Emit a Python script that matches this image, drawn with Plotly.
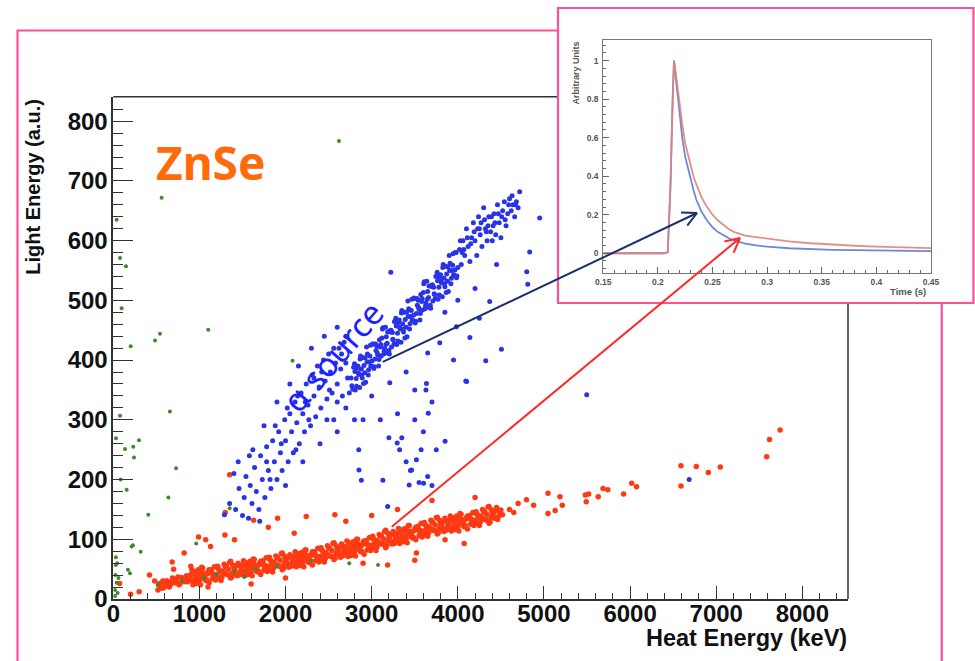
import plotly.graph_objects as go
import numpy as np

W, H = 975, 661

# ---------------- data (heat energy keV, light energy a.u.) ----------------
RED_BAND = [
    (525, 24), (550, 20), (575, 30), (600, 24), (625, 30), (650, 20), (675, 28), (700, 33), (725, 27), (750, 37),
    (775, 26), (800, 34), (825, 29), (850, 39), (875, 32), (900, 41), (925, 24), (950, 38), (975, 45), (1000, 31),
    (1025, 53), (1050, 38), (1075, 31), (1100, 45), (1125, 44), (1150, 34), (1175, 54), (1200, 41), (1225, 50), (1250, 31),
    (1275, 46), (1300, 54), (1325, 41), (1350, 61), (1375, 37), (1400, 52), (1425, 42), (1450, 60), (1475, 46), (1500, 56),
    (1525, 39), (1550, 53), (1575, 60), (1600, 45), (1625, 67), (1650, 53), (1675, 45), (1700, 60), (1725, 58), (1750, 48),
    (1775, 69), (1800, 55), (1825, 65), (1850, 45), (1875, 60), (1900, 69), (1925, 55), (1950, 76), (1975, 51), (2000, 66),
    (2025, 57), (2050, 74), (2075, 61), (2100, 71), (2125, 54), (2150, 68), (2175, 75), (2200, 61), (2225, 82), (2250, 68),
    (2275, 61), (2300, 75), (2325, 74), (2350, 64), (2375, 85), (2400, 71), (2425, 81), (2450, 62), (2475, 76), (2500, 85),
    (2525, 72), (2550, 93), (2575, 68), (2600, 83), (2625, 74), (2650, 92), (2675, 79), (2700, 88), (2725, 71), (2750, 86),
    (2775, 93), (2800, 79), (2825, 100), (2850, 86), (2875, 79), (2900, 94), (2925, 93), (2950, 82), (2975, 103), (3000, 90),
    (3025, 100), (3050, 81), (3075, 96), (3100, 105), (3125, 92), (3150, 113), (3175, 89), (3200, 104), (3225, 95), (3250, 113),
    (3275, 100), (3300, 110), (3325, 93), (3350, 108), (3375, 115), (3400, 101), (3425, 123), (3450, 109), (3475, 102), (3500, 117),
    (3525, 116), (3550, 106), (3575, 127), (3600, 114), (3625, 124), (3650, 105), (3675, 119), (3700, 128), (3725, 115), (3750, 136),
    (3775, 111), (3800, 126), (3825, 117), (3850, 135), (3875, 121), (3900, 131), (3925, 114), (3950, 129), (3975, 135), (4000, 121),
    (4025, 143), (4050, 129), (4075, 121), (4100, 136), (4125, 135), (4150, 125), (4175, 145), (4200, 132), (4225, 142), (4250, 123),
    (4275, 137), (4300, 146), (4325, 133), (4350, 154), (4375, 129), (4400, 144), (4425, 135), (4450, 153), (4475, 139), (4500, 149),
    (912, 31), (937, 46), (962, 26), (987, 44), (1012, 37), (1037, 52), (1062, 33), (1087, 42), (1112, 27), (1137, 49),
    (1162, 42), (1187, 38), (1212, 55), (1237, 35), (1262, 47), (1287, 43), (1312, 55), (1337, 40), (1362, 63), (1387, 44),
    (1412, 53), (1437, 39), (1462, 56), (1487, 42), (1512, 46), (1537, 61), (1562, 41), (1587, 58), (1612, 52), (1637, 66),
    (1662, 47), (1687, 57), (1712, 41), (1737, 64), (1762, 56), (1787, 52), (1812, 70), (1837, 49), (1862, 62), (1887, 57),
    (1912, 69), (1937, 55), (1962, 77), (1987, 59), (2012, 67), (2037, 53), (2062, 71), (2087, 56), (2112, 61), (2137, 76),
    (2162, 56), (2187, 73), (2212, 67), (2237, 82), (2262, 62), (2287, 72), (2312, 57), (2337, 79), (2362, 72), (2387, 68),
    (2412, 86), (2437, 65), (2462, 78), (2487, 74), (2512, 85), (2537, 71), (2562, 94), (2587, 76), (2612, 85), (2637, 70),
    (2662, 88), (2687, 74), (2712, 79), (2737, 94), (2762, 73), (2787, 91), (2812, 85), (2837, 100), (2862, 81), (2887, 90),
    (2912, 75), (2937, 98), (2962, 91), (2987, 87), (3012, 105), (3037, 85), (3062, 98), (3087, 94), (3112, 106), (3137, 92),
    (3162, 115), (3187, 97), (3212, 106), (3237, 92), (3262, 110), (3287, 96), (3312, 101), (3337, 116), (3362, 96), (3387, 114),
    (3412, 108), (3437, 123), (3462, 104), (3487, 114), (3512, 99), (3537, 122), (3562, 115), (3587, 111), (3612, 128), (3637, 108),
    (3662, 121), (3687, 117), (3712, 128), (3737, 114), (3762, 137), (3787, 119), (3812, 127), (3837, 113), (3862, 131), (3887, 117),
    (3912, 121), (3937, 136), (3962, 116), (3987, 134), (4012, 127), (4037, 142), (4062, 123), (4087, 133), (4112, 117), (4137, 140),
    (4162, 133), (4187, 129), (4212, 146), (4237, 126), (4262, 139), (4287, 135), (4312, 146), (4337, 132), (4362, 155), (4387, 137),
    (4412, 145),
    (537, 26), (562, 22), (587, 19), (612, 30), (637, 27), (662, 24), (687, 35), (712, 27), (737, 32), (762, 24),
    (787, 36), (812, 31), (837, 36), (862, 29), (887, 36), (912, 49), (937, 30), (962, 35), (987, 49), (1012, 24),
    (1037, 44), (1062, 40), (1087, 32), (1112, 49), (1137, 47), (1162, 39), (1187, 32), (1212, 52), (1237, 45), (1262, 37),
    (1287, 58), (1312, 42), (1337, 50), (1362, 35), (1387, 57), (1412, 47), (1437, 56), (1462, 40), (1487, 52), (1512, 64),
    (1537, 45), (1562, 50), (1587, 63), (1612, 39), (1637, 58), (1662, 54), (1687, 47), (1712, 63), (1737, 62), (1762, 53),
    (1787, 46), (1812, 67), (1837, 59), (1862, 52), (1887, 72), (1912, 56), (1937, 65), (1962, 49), (1987, 72), (2012, 61),
    (2037, 70), (2062, 55), (2087, 66), (2112, 79), (2137, 60), (2162, 65), (2187, 78), (2212, 54), (2237, 74), (2262, 69),
    (2287, 62), (2312, 79), (2337, 77), (2362, 69), (2387, 62), (2412, 83), (2437, 75), (2462, 68), (2487, 89), (2512, 72),
    (2537, 81), (2562, 66), (2587, 89), (2612, 79), (2637, 87), (2662, 72), (2687, 84), (2712, 97), (2737, 78), (2762, 82),
    (2787, 96), (2812, 72), (2837, 92), (2862, 88), (2887, 80), (2912, 97), (2937, 96), (2962, 88), (2987, 81), (3012, 101),
    (3037, 94), (3062, 87), (3087, 108), (3112, 92), (3137, 101), (3162, 86), (3187, 110), (3212, 99), (3237, 108), (3262, 93),
    (3287, 105), (3312, 118), (3337, 99), (3362, 104), (3387, 118), (3412, 94), (3437, 114), (3462, 110), (3487, 103), (3512, 120),
    (3537, 119), (3562, 111), (3587, 104), (3612, 125), (3637, 118), (3662, 111), (3687, 132), (3712, 115), (3737, 124), (3762, 109),
    (3787, 132), (3812, 121), (3837, 130), (3862, 115), (3887, 127), (3912, 139), (3937, 120), (3962, 125), (3987, 139), (4012, 114),
    (4037, 134), (4062, 130), (4087, 123), (4112, 139), (4137, 138), (4162, 130), (4187, 123), (4212, 143), (4237, 136), (4262, 129),
    (4287, 150), (4312, 133), (4337, 142), (4362, 127), (4387, 150), (4412, 139), (4437, 148), (4462, 133), (4487, 145),
]

RED_SPARSE = [
    (1351, 208), (990, 104), (1073, 99), (1129, 88), (1296, 107), (684, 62), (823, 77), (1407, 99), (1629, 132), (1907, 135),
    (2240, 138), (2572, 141), (3185, 57), (3519, 77), (3852, 99), (4074, 93), (518, 15), (73, 26), (300, 12), (200, 8),
    (420, 40), (480, 30), (560, 18), (1300, 145), (1800, 120), (2100, 110), (2700, 130), (3000, 140), (3300, 150), (3700, 165),
    (4200, 170), (3500, 65), (2900, 60), (2000, 35), (1600, 25), (1100, 20), (900, 55), (700, 50),
    (7742, 283), (7619, 267), (7586, 238), (7047, 221), (6908, 212), (6769, 222), (6591, 223), (6591, 189), (6075, 188), (6019, 194),
    (5925, 176), (5741, 183), (5686, 185), (5630, 171), (5519, 176), (5491, 163), (5480, 174), (5186, 171), (5213, 157), (5047, 177),
    (5047, 143), (5130, 148), (4880, 157), (4797, 166), (4519, 141), (4600, 150), (4700, 160), (4650, 145),
]

BLUE_EVENTS = [
    # dense alpha band
    (2760, 370), (2780, 351), (2800, 394), (2820, 369), (2840, 390), (2860, 354), (2880, 385), (2900, 404), (2920, 379), (2940, 422),
    (2960, 375), (2980, 407), (3000, 390), (3020, 427), (3040, 402), (3060, 423), (3080, 390), (3100, 422), (3120, 437), (3140, 410),
    (3160, 455), (3180, 428), (3200, 416), (3220, 447), (3240, 446), (3260, 427), (3280, 470), (3300, 445), (3320, 467), (3340, 430),
    (3360, 461), (3380, 480), (3400, 455), (3420, 499), (3440, 452), (3460, 483), (3480, 466), (3500, 503), (3520, 478), (3540, 500),
    (3560, 467), (3580, 498), (3600, 513), (3620, 486), (3640, 532), (3660, 505), (3680, 492), (3700, 523), (3720, 522), (3740, 503),
    (3760, 547), (3780, 522), (3800, 543), (3820, 506), (3840, 537), (3860, 557), (3880, 532), (3900, 575), (3920, 528), (3940, 559),
    (3960, 542), (3980, 580), (4000, 555),
    (2770, 357), (2790, 388), (2810, 350), (2830, 387), (2850, 376), (2870, 407), (2890, 370), (2910, 391), (2930, 363), (2950, 410),
    (2970, 397), (2990, 390), (3010, 427), (3030, 389), (3050, 416), (3070, 409), (3090, 434), (3110, 407), (3130, 454), (3150, 420),
    (3170, 439), (3190, 412), (3210, 449), (3230, 422), (3250, 434), (3270, 465), (3290, 426), (3310, 463), (3330, 452), (3350, 483),
    (3370, 447), (3390, 468), (3410, 439), (3430, 486), (3450, 473), (3470, 467), (3490, 504), (3510, 465), (3530, 492), (3550, 485),
    (3570, 510), (3590, 484), (3610, 531), (3630, 496), (3650, 515), (3670, 488), (3690, 525), (3710, 499), (3730, 510), (3750, 541),
    (3770, 502), (3790, 539), (3810, 529), (3830, 560), (3850, 523), (3870, 544), (3890, 515), (3910, 562), (3930, 550), (3950, 543),
    (3970, 580), (3990, 541),
    (2805, 381), (2825, 356), (2845, 379), (2865, 402), (2885, 375), (2905, 361), (2925, 404), (2945, 397), (2965, 384), (2985, 425),
    (3005, 399), (3025, 386), (3045, 427), (3065, 412), (3085, 401), (3105, 426), (3125, 452), (3145, 415), (3165, 426), (3185, 447),
    (3205, 410), (3225, 450), (3245, 435), (3265, 464), (3285, 457), (3305, 432), (3325, 455), (3345, 479), (3365, 452), (3385, 437),
    (3405, 480), (3425, 473), (3445, 461), (3465, 502), (3485, 475), (3505, 462), (3525, 503), (3545, 488), (3565, 478), (3585, 503),
    (3605, 528), (3625, 491), (3645, 502), (3665, 524), (3685, 487), (3705, 526), (3725, 511), (3745, 540), (3765, 533), (3785, 509),
    (3805, 532), (3825, 555), (3845, 528), (3865, 513), (3885, 556), (3905, 550), (3925, 537), (3945, 578), (3965, 551), (3985, 538),
    # upper end of the band
    (4020, 585), (4040, 560), (4060, 600), (4080, 575), (4100, 620), (4120, 590), (4140, 565), (4160, 605), (4180, 630), (4200, 600),
    (4220, 575), (4240, 640), (4260, 610), (4280, 590), (4300, 655), (4320, 620), (4340, 600), (4360, 640), (4380, 615), (4400, 600),
    (4410, 625), (4420, 645), (4440, 610), (4460, 660), (4480, 630), (4500, 605), (4520, 650), (4540, 665), (4560, 625), (4580, 645),
    (4600, 670), (4620, 650), (4640, 660), (4660, 640), (4680, 665), (4700, 655), (4718, 682), (4950, 638), (4834, 581), (4800, 548),
    (4812, 527), (4030, 600), (4070, 585), (4110, 605), (4150, 595), (4190, 615), (4230, 620), (4270, 630), (4310, 635), (4350, 625),
    (4390, 640), (4430, 630), (4470, 645), (4510, 640), (4550, 635), (4590, 660), (4630, 675), (4670, 660), (4050, 580), (4250, 620),
    (4330, 615),
    # lower tail
    (1290, 141), (1350, 160), (1420, 150), (1460, 185), (1500, 140), (1520, 170), (1540, 205), (1570, 135), (1590, 190), (1610, 160),
    (1640, 220), (1660, 180), (1690, 150), (1710, 240), (1730, 200), (1760, 170), (1780, 255), (1800, 215), (1830, 185), (1850, 265),
    (1870, 230), (1900, 200), (1920, 280), (1940, 245), (1960, 215), (1990, 300), (2000, 265), (2030, 230), (2050, 310), (2070, 280),
    (2090, 245), (2110, 330), (2130, 295), (2160, 260), (2180, 345), (2200, 310), (2220, 280), (2240, 360), (2260, 325), (2290, 290),
    (2310, 375), (2330, 340), (2350, 305), (2370, 390), (2390, 355), (2410, 320), (2440, 400), (2460, 365), (2480, 335), (2500, 410),
    (2520, 380), (2540, 345), (2560, 300), (2580, 395), (2600, 360), (2620, 420), (2640, 385), (2660, 340), (2680, 430), (2700, 395),
    (2720, 370), (2740, 345), (1580, 240), (1750, 290), (1900, 330), (2050, 360), (2150, 390), (2300, 420), (2450, 440), (2600, 455),
    (1400, 210), (1700, 130), (2000, 190), (2200, 230), (2400, 260), (2600, 280), (2800, 300),
    (1450, 230), (1620, 250), (1780, 230), (1880, 290), (2020, 320), (2140, 340), (2230, 330), (2330, 370), (2420, 380), (2510, 350),
    (2560, 420), (2650, 410), (2700, 440), (2120, 250), (2270, 300), (2480, 300), (2600, 330), (2700, 320), (1950, 260), (1820, 200),
    # scattered off-band events
    (3222, 547), (4370, 498), (4140, 438), (4506, 418), (4324, 399), (4092, 365), (3650, 412), (3790, 429), (3983, 456), (3636, 361),
    (3210, 362), (3400, 380), (3500, 300), (3600, 280), (3700, 330), (3750, 250), (3300, 310), (3400, 230), (3550, 195), (3650, 205),
    (3700, 190), (3200, 270), (3100, 300), (3000, 340), (2900, 300), (2850, 250), (3500, 350), (3850, 480), (4000, 500), (4200, 520),
    (4250, 470), (3950, 400), (4450, 560), (5496, 342), (6686, 200), (3350, 270), (3450, 215), (3630, 350), (3657, 311), (3574, 250),
    (3519, 233), (3602, 194), (3435, 191), (3324, 250), (3296, 261), (3463, 216), (3185, 155), (3130, 199), (2852, 216), (2880, 199),
    (3852, 264), (4102, 364),
]

GREEN_EVENTS = [
    (2620, 767), (561, 672), (39, 635), (78, 571), (147, 557), (97, 487), (542, 444), (485, 433), (1102, 451), (202, 423),
    (2081, 399), (78, 307), (31, 269), (136, 251), (232, 255), (298, 266), (240, 237), (86, 200), (155, 183), (406, 141),
    (213, 88), (228, 90), (318, 79), (28, 57), (170, 49), (194, 43), (39, 27), (657, 314), (729, 219), (640, 170),
    (962, 93), (1351, 152), (2740, 60), (3074, 57), (518, 23), (1407, 46), (1518, 37), (20, 15), (50, 10), (30, 70),
    (25, 40), (60, 35), (1200, 40), (1650, 50), (1900, 55), (2300, 65), (800, 30), (1050, 35), (20, 5), (45, 60),
]

# inset pulse shapes (time in s, normalised amplitude)
PULSE_TIME = [0.15, 0.17, 0.19, 0.205, 0.209, 0.2115, 0.2135, 0.2147, 0.216, 0.218, 0.22, 0.2225, 0.225, 0.2275,
              0.23, 0.2325, 0.235, 0.2375, 0.24, 0.245, 0.25, 0.255, 0.26, 0.265, 0.27, 0.28, 0.29, 0.30,
              0.32, 0.34, 0.36, 0.38, 0.40, 0.42, 0.45]
PULSE_ALPHA = [0, 0, 0, 0, 0.005, 0.35, 0.8, 1.0, 0.93, 0.82, 0.70, 0.59, 0.50, 0.44,
               0.38, 0.33, 0.28, 0.245, 0.215, 0.17, 0.135, 0.11, 0.092, 0.078, 0.066, 0.050, 0.041, 0.034,
               0.026, 0.021, 0.018, 0.016, 0.014, 0.013, 0.011]
PULSE_BETA = [0, 0, 0, 0, 0.005, 0.35, 0.8, 1.0, 0.95, 0.86, 0.76, 0.66, 0.57, 0.51,
              0.45, 0.40, 0.36, 0.32, 0.29, 0.24, 0.20, 0.17, 0.145, 0.125, 0.11, 0.092, 0.084, 0.076,
              0.062, 0.052, 0.044, 0.039, 0.034, 0.030, 0.027]

X_TICKS = [0, 1000, 2000, 3000, 4000, 5000, 6000, 7000, 8000]
Y_TICKS = [0, 100, 200, 300, 400, 500, 600, 700, 800]
INSET_X_TICKS = [0.15, 0.2, 0.25, 0.3, 0.35, 0.4, 0.45]
INSET_X_LABELS = ["0.15", "0.2", "0.25", "0.3", "0.35", "0.4", "0.45"]
INSET_Y_TICKS = [0, 0.2, 0.4, 0.6, 0.8, 1.0]
INSET_Y_LABELS = ["0", "0.2", "0.4", "0.6", "0.8", "1"]

# ---------------- geometry ----------------
MX0, MX1, MYB, MYT = 113.3, 848.0, 599.0, 96.7
XR = [0, 8530]
YR = [0, 841]
IX0, IX1, IYB, IYT = 603.3, 931.0, 273.3, 40.0
IXR = [0.15, 0.45]
IYR = [-0.104, 1.107]


def px(x):
    return x / W


def py(y):
    return 1 - y / H


def main_to_px(hx, ly):
    return (MX0 + (hx - XR[0]) / (XR[1] - XR[0]) * (MX1 - MX0),
            MYB - (ly - YR[0]) / (YR[1] - YR[0]) * (MYB - MYT))


def inset_to_px(t, a):
    return (IX0 + (t - IXR[0]) / (IXR[1] - IXR[0]) * (IX1 - IX0),
            IYB - (a - IYR[0]) / (IYR[1] - IYR[0]) * (IYB - IYT))


def unzip(pairs):
    return [p[0] for p in pairs], [p[1] for p in pairs]


fig = go.Figure()

rx, ry = unzip(RED_BAND + RED_SPARSE)
bx, by = unzip(BLUE_EVENTS)
gx, gy = unzip(GREEN_EVENTS)

fig.add_trace(go.Scatter(x=rx, y=ry, mode="markers", xaxis="x", yaxis="y",
                         marker=dict(size=5.5, color="#ff3a12", line=dict(width=0)), hoverinfo="skip"))
fig.add_trace(go.Scatter(x=bx, y=by, mode="markers", xaxis="x", yaxis="y",
                         marker=dict(size=5, color="#2a34e6", line=dict(width=0)), hoverinfo="skip"))
fig.add_trace(go.Scatter(x=gx, y=gy, mode="markers", xaxis="x", yaxis="y",
                         marker=dict(size=4, color="#3f8a2c", line=dict(width=0)), hoverinfo="skip"))

fig.add_trace(go.Scatter(x=PULSE_TIME, y=PULSE_ALPHA, mode="lines", xaxis="x2", yaxis="y2",
                         line=dict(color="#6f88d8", width=1.8), hoverinfo="skip"))
fig.add_trace(go.Scatter(x=PULSE_TIME, y=PULSE_BETA, mode="lines", xaxis="x2", yaxis="y2",
                         line=dict(color="#e0837a", width=1.8), opacity=0.9, hoverinfo="skip"))

AX = "#333333"
tickfont = dict(family="Liberation Sans, Arial", size=24, color="#111111", weight="bold")
inset_font = dict(family="Liberation Sans, Arial", size=8.5, color="#555555", weight="bold")

fig.update_layout(
    width=W, height=H, margin=dict(l=0, r=0, t=0, b=0, autoexpand=False),
    paper_bgcolor="white", plot_bgcolor="white", showlegend=False,
    xaxis=dict(domain=[px(MX0), px(MX1)], range=XR, anchor="y", automargin=False,
               tickmode="array", tickvals=X_TICKS, ticktext=[str(v) for v in X_TICKS],
               ticks="inside", ticklen=13, tickwidth=1.3, tickcolor=AX,
               minor=dict(dtick=200, tick0=0, ticks="inside", ticklen=6, tickwidth=1, tickcolor=AX),
               showline=True, linecolor=AX, linewidth=1.6, mirror=False,
               showgrid=False, zeroline=False, tickfont=tickfont, ticklabelstandoff=-8),
    yaxis=dict(domain=[py(MYB), py(MYT)], range=YR, anchor="x", automargin=False,
               tickmode="array", tickvals=Y_TICKS, ticktext=[str(v) for v in Y_TICKS],
               ticks="inside", ticklen=20, tickwidth=1.3, tickcolor=AX,
               minor=dict(dtick=20, tick0=0, ticks="inside", ticklen=10, tickwidth=1, tickcolor=AX),
               showline=True, linecolor=AX, linewidth=1.6, mirror=False,
               showgrid=False, zeroline=False, tickfont=tickfont, ticklabelstandoff=-1),
    xaxis2=dict(domain=[px(IX0), px(IX1)], range=IXR, anchor="y2", automargin=False,
                tickmode="array", tickvals=INSET_X_TICKS, ticktext=INSET_X_LABELS,
                ticks="inside", ticklen=6, tickwidth=1, tickcolor="#666",
                minor=dict(dtick=0.01, tick0=0.15, ticks="inside", ticklen=3, tickwidth=1, tickcolor="#666"),
                showline=True, linecolor="#777", linewidth=1, mirror=True,
                showgrid=False, zeroline=False, tickfont=inset_font, ticklabelstandoff=0),
    yaxis2=dict(domain=[py(IYB), py(IYT)], range=IYR, anchor="x2", automargin=False,
                tickmode="array", tickvals=INSET_Y_TICKS, ticktext=INSET_Y_LABELS,
                ticks="inside", ticklen=6, tickwidth=1, tickcolor="#666",
                minor=dict(dtick=0.04, tick0=0, ticks="inside", ticklen=3, tickwidth=1, tickcolor="#666"),
                showline=True, linecolor="#777", linewidth=1, mirror=True,
                showgrid=False, zeroline=False, tickfont=inset_font, ticklabelstandoff=2),
)

PINK = "#ff4f98"
shapes = []
# outer pink frame
shapes.append(dict(type="rect", xref="paper", yref="paper", x0=px(17.5), x1=px(941.7), y0=py(700), y1=py(30.5),
                   line=dict(color=PINK, width=2.2), fillcolor="rgba(0,0,0,0)", layer="below"))
# main frame top and right edges
shapes.append(dict(type="line", xref="paper", yref="paper", x0=px(MX0), x1=px(MX1), y0=py(MYT), y1=py(MYT),
                   line=dict(color=AX, width=1.5), layer="below"))
shapes.append(dict(type="line", xref="paper", yref="paper", x0=px(MX1), x1=px(MX1), y0=py(MYT), y1=py(MYB),
                   line=dict(color=AX, width=1.5), layer="below"))
# inset panel
shapes.append(dict(type="rect", xref="paper", yref="paper", x0=px(558), x1=px(973.5), y0=py(303), y1=py(8),
                   line=dict(color=PINK, width=2.2), fillcolor="white", layer="below"))


def arrow(tail, head, color, width=2.0, arm=16, spread=27):
    tx, ty = tail
    hx, hy = head
    d = np.array([hx - tx, hy - ty], dtype=float)
    d /= np.linalg.norm(d)
    out = [dict(type="line", xref="paper", yref="paper", x0=px(tx), y0=py(ty), x1=px(hx), y1=py(hy),
                line=dict(color=color, width=width), layer="above")]
    for s in (spread, -spread):
        a = np.radians(s)
        rot = np.array([[np.cos(a), -np.sin(a)], [np.sin(a), np.cos(a)]])
        v = rot @ (-d) * arm
        out.append(dict(type="line", xref="paper", yref="paper", x0=px(hx), y0=py(hy),
                        x1=px(hx + v[0]), y1=py(hy + v[1]),
                        line=dict(color=color, width=width), layer="above"))
    return out


shapes += arrow(main_to_px(3129, 397), inset_to_px(0.2358, 0.209), "#1b2f6b")
shapes += arrow(main_to_px(3233, 121), inset_to_px(0.2751, 0.079), "#ff2a2a")

fig.update_layout(shapes=shapes)

ann = []
ann.append(dict(text="Light Energy (a.u.)", xref="paper", yref="paper", x=px(33), y=py(MYT), xanchor="center",
                yanchor="top", textangle=-90, showarrow=False,
                font=dict(family="Liberation Sans, Arial", size=20, color="#111", weight="bold")))
ann.append(dict(text="Heat Energy (keV)", xref="paper", yref="paper", x=px(849), y=py(638), xanchor="right",
                yanchor="middle", showarrow=False,
                font=dict(family="Liberation Sans, Arial", size=23.5, color="#111", weight="bold")))
ann.append(dict(text="ZnSe", xref="paper", yref="paper", x=px(210), y=py(162), xanchor="center", yanchor="middle",
                showarrow=False, font=dict(family="Noto Sans, Lato", size=46, color="#ff6a0a", weight="bold")))
ann.append(dict(text="α source", xref="paper", yref="paper", x=px(333), y=py(357), xanchor="center",
                yanchor="middle", textangle=-49, showarrow=False,
                font=dict(family="Noto Sans, Lato", size=33, color="#1a22ff")))
ann.append(dict(text="Arbitrary Units", xref="paper", yref="paper", x=px(575), y=py(40), xanchor="center",
                yanchor="top", textangle=-90, showarrow=False,
                font=dict(family="Liberation Sans, Arial", size=9, color="#555", weight="bold")))
ann.append(dict(text="Time (s)", xref="paper", yref="paper", x=px(928), y=py(291), xanchor="right",
                yanchor="middle", showarrow=False,
                font=dict(family="Liberation Sans, Arial", size=9.5, color="#555", weight="bold")))
fig.update_layout(annotations=ann)

fig.write_html("out.html")
